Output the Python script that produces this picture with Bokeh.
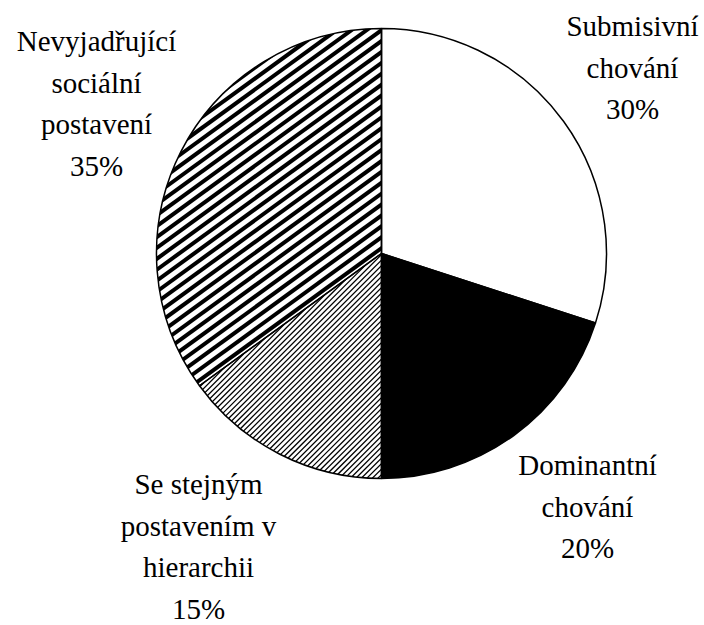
import math
from bokeh.plotting import figure
from bokeh.models import ColumnDataSource, Range1d
from bokeh.core.properties import value
from bokeh.embed import file_html
from bokeh.resources import INLINE

# ---- data ----
categories = ["Submisivní chování", "Dominantní chování",
              "Se stejným postavením v hierarchii", "Nevyjadřující sociální postavení"]
label_lines = [["Submisivní", "chování"],
               ["Dominantní", "chování"],
               ["Se stejným", "postavením v", "hierarchii"],
               ["Nevyjadřující", "sociální", "postavení"]]
shares = [30, 20, 15, 35]

# ---- styles / layout ----
fill_colors = ["white", "black", "white", "white"]
stripe_angle = [None, None, 45, 36]      # degrees from horizontal, "/" direction
stripe_hspace = [None, None, 5.5, 15]    # horizontal spacing of stripes (px)
stripe_width = [None, None, 1.3, 4.0]    # stripe thickness (px)
# label block anchor offsets from pie centre (screen px: dx right, dy down)
label_dx = [251, 206, -183, -285]
label_dy = [-186, 253, 293, -150]
LINE_STEP = 41.5
W, H = 704, 625
CX, CY, R = 381, 253, 225   # pie centre (page px) and radius
FONT = "Liberation Serif"
FONT_SIZE = "29px"


def ydata(y_screen):
    return H - y_screen


total = sum(shares)
starts, ends = [], []
cum = 0.0
for s in shares:
    starts.append(math.pi / 2 - 2 * math.pi * cum / total)
    cum += s
    ends.append(math.pi / 2 - 2 * math.pi * cum / total)

cx, cy = CX, ydata(CY)


def sector_poly(a0, a1, n=240):
    pts = [(cx, cy)]
    for i in range(n + 1):
        a = a0 + (a1 - a0) * i / n
        pts.append((cx + R * math.cos(a), cy + R * math.sin(a)))
    return pts


def clip(poly, nx, ny, d, keep_ge):
    out = []
    m = len(poly)
    for i in range(m):
        P, Q = poly[i], poly[(i + 1) % m]
        fp = nx * P[0] + ny * P[1] - d
        fq = nx * Q[0] + ny * Q[1] - d
        if not keep_ge:
            fp, fq = -fp, -fq
        if fp >= 0:
            out.append(P)
        if (fp >= 0) != (fq >= 0):
            t = fp / (fp - fq)
            out.append((P[0] + t * (Q[0] - P[0]), P[1] + t * (Q[1] - P[1])))
    return out


sx, sy = [], []
for k in range(len(shares)):
    if stripe_angle[k] is None:
        continue
    th = math.radians(stripe_angle[k])
    nx, ny = -math.sin(th), math.cos(th)
    period = stripe_hspace[k] * math.sin(th)
    w = stripe_width[k]
    poly = sector_poly(starts[k], ends[k])
    vals = [nx * x + ny * y for x, y in poly]
    c = math.floor(min(vals) / period) * period
    while c < max(vals):
        band = clip(poly, nx, ny, c, True)
        if band:
            band = clip(band, nx, ny, c + w, False)
        if len(band) >= 3:
            sx.append([q[0] for q in band])
            sy.append([q[1] for q in band])
        c += period

src = ColumnDataSource(dict(
    x=[cx] * len(shares), y=[cy] * len(shares),
    start=starts, end=ends, fill=fill_colors, cat=categories,
))

p = figure(width=W, height=H, output_backend="svg", toolbar_location=None,
           x_range=Range1d(0, W), y_range=Range1d(0, H),
           min_border=0, outline_line_color=None, background_fill_color="white",
           border_fill_color="white")
p.axis.visible = False
p.grid.visible = False

# slice fills
p.wedge(x="x", y="y", radius=R, start_angle="start", end_angle="end",
        direction="clock", source=src, fill_color="fill", line_color=None)
# stripe patterns
p.patches(xs=sx, ys=sy, fill_color="black", line_color=None)
# slice outlines
p.wedge(x="x", y="y", radius=R, start_angle="start", end_angle="end",
        direction="clock", source=src, fill_color=None,
        line_color="black", line_width=1.5)

tx, ty, tt = [], [], []
for k, lines in enumerate(label_lines):
    all_lines = lines + [f"{shares[k]}%"]
    n = len(all_lines)
    ax = CX + label_dx[k]
    ay = CY + label_dy[k]
    for i, t in enumerate(all_lines):
        tx.append(ax)
        ty.append(ydata(ay + (i - (n - 1) / 2) * LINE_STEP))
        tt.append(t)

p.text(x=tx, y=ty, text=tt, text_align="center", text_baseline="alphabetic",
       text_font=value(FONT), text_font_size=FONT_SIZE, text_color="black")

open("out.html", "w").write(file_html(p, INLINE))
